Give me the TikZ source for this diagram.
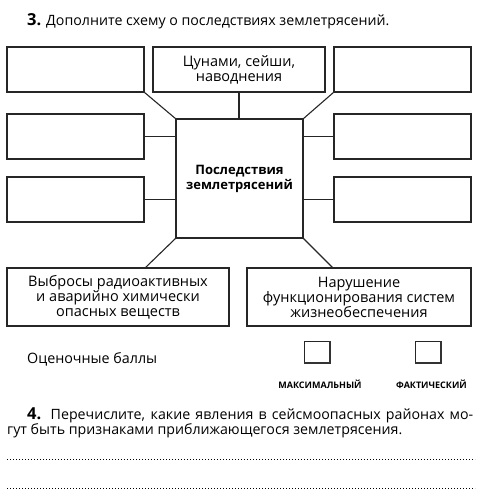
\documentclass[tikz,border=0pt]{standalone}
\usepackage{fontspec}
\setmainfont{Open Sans}
\usetikzlibrary{positioning}

\begin{document}
\begin{tikzpicture}[x=1pt,y=-1pt,
    box/.style={draw=black!85,line width=1.1pt,inner sep=0pt,outer sep=0pt,align=center,
      font=\fontsize{14.5}{15}\selectfont},
    conn/.style={draw=black!85,line width=1.1pt},
    scorebox/.style={draw=black!85,line width=1pt,inner sep=0pt,outer sep=0pt,minimum width=26pt,minimum height=22pt},
    caption/.style={font=\fontsize{9}{9}\selectfont\bfseries,inner sep=0pt}]
      \useasboundingbox[fill=white] (0,0) rectangle (500,500);

      \node[anchor=base west,inner sep=0pt,font=\fontsize{14.2}{15}\selectfont] (task3) at (27,26)
        {{\fontsize{16.5}{15}\selectfont\textbf{3.}} Дополните схему о последствиях землетрясений.};

      % top row
      \node[box,minimum width=137pt,minimum height=45pt] (tl) at (75.5,69.5) {};
      \node[box,minimum width=172pt,minimum height=45pt] (tm) at (239,69.5) {Цунами, сейши,\\ наводнения};
      \node[box,minimum width=137pt,minimum height=45pt] (tr) at (402.5,69.5) {};

      % centre
      \node[box,minimum width=127pt,minimum height=119pt,font=\fontsize{13}{15}\selectfont\bfseries] (c) at (239.5,178.5)
        {Последствия\\ землетрясений};

      % side boxes
      \node[box,minimum width=137pt,minimum height=45pt] (l1) at (75.5,136.5) {};
      \node[box,minimum width=137pt,minimum height=45pt] (l2) at (75.5,199.5) {};
      \node[box,minimum width=137pt,minimum height=45pt] (r1) at (402.5,136.5) {};
      \node[box,minimum width=137pt,minimum height=45pt] (r2) at (402.5,199.5) {};

      % bottom row
      \node[box,minimum width=222pt,minimum height=58pt] (bl) at (118,297)
        {Выбросы радиоактивных\\ и аварийно химически\\ опасных веществ};
      \node[box,minimum width=224pt,minimum height=58pt] (br) at (359,297)
        {Нарушение\\ функционирования систем\\ жизнеобеспечения};

      \coordinate (blj) at (145,268);
      \coordinate (brj) at (333,268);

      \draw[conn] (tl.south east) -- (c.north west);
      \draw[conn] (tm.south) -- (tm.south |- c.north);
      \draw[conn] (tr.south west) -- (c.north east);
      \draw[conn] (l1.east) -- (l1.east -| c.west);
      \draw[conn] (l2.east) -- (l2.east -| c.west);
      \draw[conn] (r1.west) -- (r1.west -| c.east);
      \draw[conn] (r2.west) -- (r2.west -| c.east);
      \draw[conn] (c.south west) -- (blj);
      \draw[conn] (c.south east) -- (brj);

      % scores
      \node[anchor=base west,inner sep=0pt,font=\fontsize{14.3}{15}\selectfont] (score) at (27,363) {Оценочные баллы};
      \node[scorebox] (maxb) at (317,352) {};
      \node[scorebox] (factb) at (428,352) {};
      \draw[line width=1.8pt,black!80] (maxb.north east) -- (maxb.south east) -- (maxb.south west);
      \draw[line width=1.8pt,black!80] (factb.north east) -- (factb.south east) -- (factb.south west);
      \node[caption,anchor=base] (maxl) at (320,388) {МАКСИМАЛЬНЫЙ};
      \node[caption,anchor=base] (factl) at (431.5,388) {ФАКТИЧЕСКИЙ};

      % task 4
      \node[anchor=base west,inner sep=0pt,font=\fontsize{14.2}{15}\selectfont] (task4a) at (27,419)
        {\makebox[446pt][s]{{\fontsize{16.5}{15}\selectfont\textbf{4.}} Перечислите, какие явления в сейсмоопасных районах мо-}};
      \node[anchor=base west,inner sep=0pt,font=\fontsize{14.2}{15}\selectfont] (task4b) at (7,434)
        {гут быть признаками приближающегося землетрясения.};

      \draw[line width=1pt,dash pattern=on 1pt off 2pt] (7,459) -- (475,459);
      \draw[line width=1pt,dash pattern=on 1pt off 2pt] (7,488) -- (475,488);
    \end{tikzpicture}
\end{document}
